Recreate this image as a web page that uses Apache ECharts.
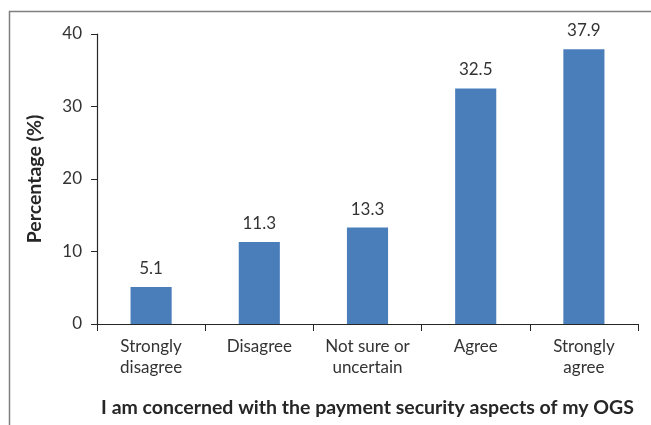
<!DOCTYPE html>
<html>
<head>
<meta charset="utf-8">
<script src="https://cdn.jsdelivr.net/npm/echarts@6/dist/echarts.min.js"></script>
<style>
  html, body { margin: 0; padding: 0; background: #fff; }
  #chart { width: 651px; height: 425px; }
</style>
</head>
<body>
<div id="chart"></div>
<script>
const categories = ["Strongly\ndisagree", "Disagree", "Not sure or\nuncertain", "Agree", "Strongly\nagree"];
const percentages = [5.1, 11.3, 13.3, 32.5, 37.9];
const yTicks = [0, 10, 20, 30, 40];

const FONT = "Lato";
const chart = echarts.init(document.getElementById("chart"));

chart.setOption({
  animation: false,
  textStyle: { fontFamily: FONT },
  graphic: [
    {
      type: "rect",
      shape: { x: 9.5, y: 11.5, width: 700, height: 500 },
      style: { fill: "none", stroke: "#7f7f7f", lineWidth: 1.5 },
      silent: true
    }
  ],
  grid: { left: 97, right: 13, top: 34, bottom: 101 },
  xAxis: {
    type: "category",
    data: categories,
    name: "I am concerned with the payment security aspects of my OGS",
    nameLocation: "middle",
    nameGap: 74,
    nameTextStyle: { fontSize: 19.5, fontWeight: "bold", color: "#262626", fontFamily: FONT },
    axisLine: { lineStyle: { color: "#262626", width: 1.2 } },
    axisTick: { show: true, length: 7, inside: false, alignWithLabel: false, lineStyle: { color: "#262626" } },
    axisLabel: { fontSize: 17, color: "#333", lineHeight: 21, margin: 12, interval: 0 }
  },
  yAxis: {
    type: "value",
    min: yTicks[0],
    max: yTicks[yTicks.length - 1],
    interval: 10,
    name: "Percentage (%)",
    nameLocation: "middle",
    nameRotate: 90,
    nameGap: 52,
    nameTextStyle: { fontSize: 19.5, fontWeight: "bold", color: "#262626", fontFamily: FONT },
    splitLine: { show: false },
    axisLine: { show: true, lineStyle: { color: "#262626", width: 1.2 } },
    axisTick: { show: true, length: 6, lineStyle: { color: "#262626" } },
    axisLabel: { fontSize: 17, color: "#333", margin: 15 }
  },
  series: [
    {
      type: "bar",
      data: percentages,
      barWidth: "38%",
      itemStyle: { color: "#4a7ebb" },
      label: {
        show: true,
        position: "top",
        distance: 10,
        fontSize: 17,
        color: "#333",
        formatter: p => p.value.toFixed(1)
      }
    }
  ]
});
</script>
</body>
</html>
